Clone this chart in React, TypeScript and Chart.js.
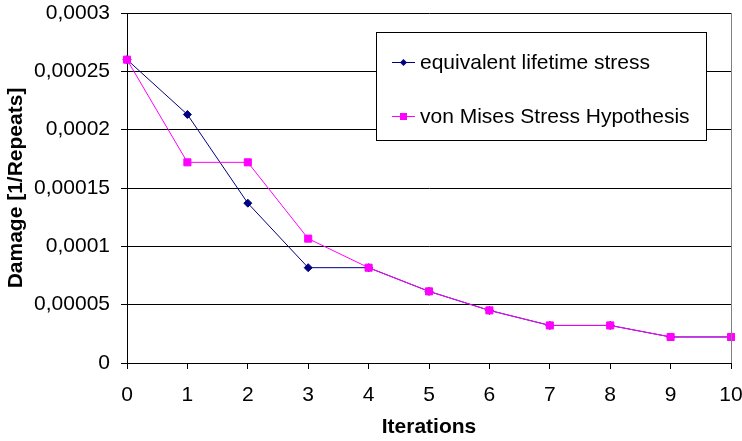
import React, { useEffect, useRef } from "react";
import { Chart, registerables } from "chart.js";

Chart.register(...registerables);

const iterations = ["0", "1", "2", "3", "4", "5", "6", "7", "8", "9", "10"];
const equivalentLifetime = [0.00026, 0.000213, 0.000137, 0.0000817, 0.0000817, 0.0000614, 0.0000451, 0.0000322, 0.0000322, 0.0000223, 0.0000223];
const vonMises = [0.00026, 0.000172, 0.000172, 0.0001066, 0.0000817, 0.0000614, 0.0000451, 0.0000322, 0.0000322, 0.0000223, 0.0000223];
const seriesNames = ["equivalent lifetime stress", "von Mises Stress Hypothesis"];
const xTitle = "Iterations";
const yTitle = "Damage [1/Repeats]";

const FONT = "'Liberation Sans', Arial, sans-serif";
const BLUE = "#000080";
const PINK = "#FF00FF";

const fmt = (v: number) => {
  const n = Number(Number(v).toPrecision(6));
  return String(n).replace(".", ",");
};

const frameAndLegend = {
  id: "frameAndLegend",
  afterDraw(chart: any) {
    const ctx = chart.ctx;
    const a = chart.chartArea;
    ctx.save();
    // right frame line
    ctx.strokeStyle = "#808080";
    ctx.lineWidth = 1;
    ctx.beginPath();
    ctx.moveTo(a.right + 0.5, a.top);
    ctx.lineTo(a.right + 0.5, a.bottom);
    ctx.stroke();

    // legend box
    const bx = 376.5, by = 32.5, bw = 330, bh = 108;
    ctx.fillStyle = "#ffffff";
    ctx.fillRect(bx, by, bw, bh);
    ctx.strokeStyle = "#000000";
    ctx.strokeRect(bx, by, bw, bh);

    const items = [
      { color: BLUE, style: "diamond", y: 62 },
      { color: PINK, style: "square", y: 116 },
    ];
    items.forEach((it, i) => {
      ctx.strokeStyle = it.color;
      ctx.fillStyle = it.color;
      ctx.lineWidth = 1;
      ctx.beginPath();
      ctx.moveTo(392, it.y + 0.5);
      ctx.lineTo(415, it.y + 0.5);
      ctx.stroke();
      const cx = 403.5, cy = it.y + 0.5;
      ctx.beginPath();
      if (it.style === "diamond") {
        ctx.moveTo(cx, cy - 3.5);
        ctx.lineTo(cx + 3.5, cy);
        ctx.lineTo(cx, cy + 3.5);
        ctx.lineTo(cx - 3.5, cy);
        ctx.closePath();
      } else {
        ctx.rect(cx - 3.5, cy - 3.5, 7, 7);
      }
      ctx.fill();
      ctx.fillStyle = "#000000";
      ctx.font = `21px ${FONT}`;
      ctx.textBaseline = "middle";
      ctx.textAlign = "left";
      ctx.fillText(seriesNames[i], 420, it.y + 1);
    });
    ctx.restore();
  },
};

export default function App() {
  const ref = useRef<HTMLCanvasElement>(null);
  useEffect(() => {
    if (!ref.current) return;
    const chart = new Chart(ref.current, {
      type: "line",
      data: {
        labels: iterations,
        datasets: [
          {
            label: seriesNames[0],
            data: equivalentLifetime,
            borderColor: BLUE,
            backgroundColor: BLUE,
            borderWidth: 1,
            pointStyle: "rectRot",
            pointRadius: 4,
            pointBorderWidth: 1,
            tension: 0,
            order: 1,
          },
          {
            label: seriesNames[1],
            data: vonMises,
            borderColor: PINK,
            backgroundColor: PINK,
            borderWidth: 1,
            pointStyle: "rect",
            pointRadius: 5,
            pointBorderWidth: 1,
            tension: 0,
            order: 0,
          },
        ],
      },
      options: {
        responsive: false,
        animation: false,
        layout: { padding: { top: 13, right: 11, left: 0, bottom: 0 } },
        plugins: {
          legend: { display: false },
          tooltip: { enabled: false },
        },
        scales: {
          x: {
            type: "category",
            offset: false,
            grid: {
              drawOnChartArea: false,
              drawTicks: true,
              tickLength: 6,
              color: "#000",
            },
            border: { display: true, color: "#000", width: 1 },
            ticks: {
              color: "#000",
              font: { family: FONT, size: 21 },
              padding: 14,
              maxRotation: 0,
              autoSkip: false,
            },
            title: {
              display: true,
              text: xTitle,
              color: "#000",
              font: { family: FONT, size: 21, weight: "bold" },
              padding: { top: 0, bottom: 1 },
            },
            afterFit(scale: any) {
              scale.height = 78;
              scale.paddingLeft = 0;
              scale.paddingRight = 0;
            },
          },
          y: {
            min: 0,
            max: 0.0003,
            grid: {
              color: "#000",
              lineWidth: 1,
              drawTicks: true,
              tickLength: 6,
            },
            border: { display: true, color: "#000", width: 1 },
            ticks: {
              stepSize: 0.00005,
              color: "#000",
              font: { family: FONT, size: 21 },
              padding: 11,
              callback: (v: any) => fmt(v),
            },
            title: {
              display: true,
              text: yTitle,
              color: "#000",
              font: { family: FONT, size: 21, weight: "bold" },
              padding: { top: 4, bottom: 0 },
            },
            afterFit(scale: any) {
              scale.width = 127;
              scale.paddingTop = 0;
              scale.paddingBottom = 0;
            },
          },
        },
      },
      plugins: [frameAndLegend],
    } as any);
    return () => chart.destroy();
  }, []);
  return (
    <div style={{ position: "absolute", left: 0, top: 0, width: 742, height: 441, background: "#fff" }}>
      <canvas ref={ref} width={742} height={441} style={{ display: "block" }} />
    </div>
  );
}
